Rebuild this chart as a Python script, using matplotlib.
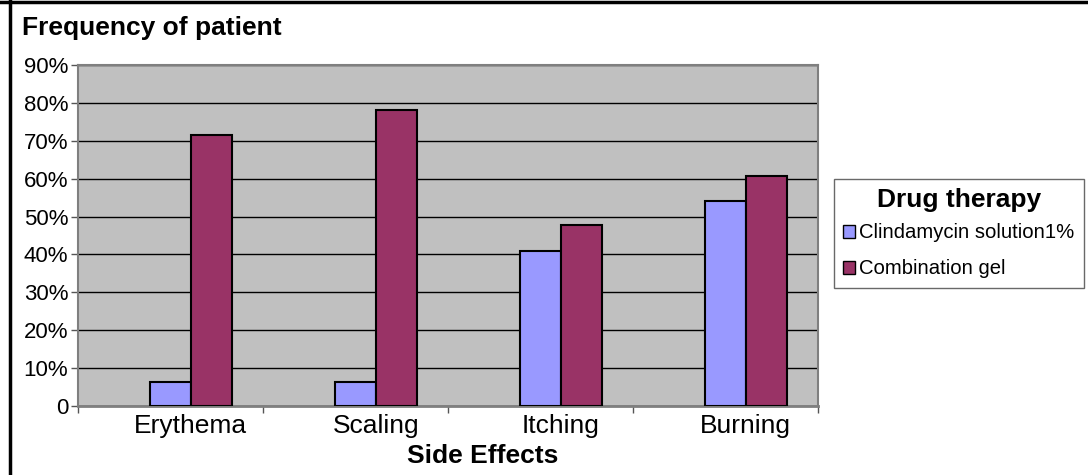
import matplotlib
matplotlib.use("Agg")
import matplotlib.pyplot as plt
from matplotlib.lines import Line2D
from matplotlib.patches import Patch
import numpy as np

categories = ["Erythema", "Scaling", "Itching", "Burning"]
clindamycin = [6.4, 6.4, 40.8, 54.2]
combination = [71.4, 78.1, 47.7, 60.8]
series_names = ["Clindamycin solution1%", "Combination gel"]
yticks = [0, 10, 20, 30, 40, 50, 60, 70, 80, 90]
ytick_labels = ["0", "10%", "20%", "30%", "40%", "50%", "60%", "70%", "80%", "90%"]

plt.rcParams['font.family'] = ['Liberation Sans', 'DejaVu Sans']

W, H = 1088, 475
fig = plt.figure(figsize=(W / 100, H / 100), dpi=100)
fig.patch.set_facecolor("white")

# figure border lines (top and left)
fig.add_artist(Line2D([0, 1], [1 - 2 / H, 1 - 2 / H], transform=fig.transFigure, color="black", lw=2.5))
fig.add_artist(Line2D([9.5 / W, 9.5 / W], [0, 1], transform=fig.transFigure, color="black", lw=2.5))

ax_l, ax_r, ax_t, ax_b = 78, 818, 65, 406
ax = fig.add_axes([ax_l / W, 1 - ax_b / H, (ax_r - ax_l) / W, (ax_b - ax_t) / H])
ax.set_facecolor("#C0C0C0")

x = np.arange(len(categories))
bw = 0.222
ax.bar(x - bw / 2, clindamycin, bw, color="#9999FF", edgecolor="black", linewidth=1.5, zorder=3)
ax.bar(x + bw / 2, combination, bw, color="#993366", edgecolor="black", linewidth=1.5, zorder=3)

off = 0.61
ax.set_xlim(-off, len(categories) - off)
ax.set_ylim(0, 90)
ax.set_yticks(yticks)
ax.set_yticklabels(ytick_labels, fontsize=16)
ax.yaxis.grid(True, color="black", lw=1, zorder=1)
ax.set_axisbelow(True)

ax.set_xticks(np.arange(len(categories) + 1) - off)
ax.set_xticklabels([])
ax.set_xticks(x, minor=True)
ax.set_xticklabels(categories, minor=True, fontsize=19)
ax.tick_params(axis="x", which="minor", length=0, pad=6)
ax.tick_params(axis="x", which="major", length=5, width=1, color="#555555", direction="out")
ax.tick_params(axis="y", length=5, width=1, color="#555555", pad=2)

for s in ax.spines.values():
    s.set_color("#7f7f7f")
    s.set_linewidth(1.5)
ax.spines["bottom"].set_linewidth(2)

fig.text(22 / W, 1 - 28 / H, "Frequency of patient", fontsize=19, fontweight="bold",
         va="center", ha="left")
fig.text(483 / W, 1 - 456 / H, "Side Effects", fontsize=19, fontweight="bold",
         va="center", ha="center")

handles = [Patch(facecolor="#9999FF", edgecolor="black"),
           Patch(facecolor="#993366", edgecolor="black")]
leg = fig.legend(handles, series_names, title="Drug therapy", loc="upper left",
                 bbox_to_anchor=(834 / W, 1 - 179 / H), fontsize=14.6,
                 title_fontproperties={"size": 19, "weight": "bold"},
                 frameon=True, fancybox=False, handlelength=0.6, handleheight=0.6,
                 handletextpad=0.2, borderpad=0.45, labelspacing=0.85, borderaxespad=0)
leg.get_frame().set_edgecolor("#444444")
leg.get_frame().set_linewidth(1)
leg._legend_box.sep = 8

fig.savefig("out.png", dpi=100, facecolor="white")
